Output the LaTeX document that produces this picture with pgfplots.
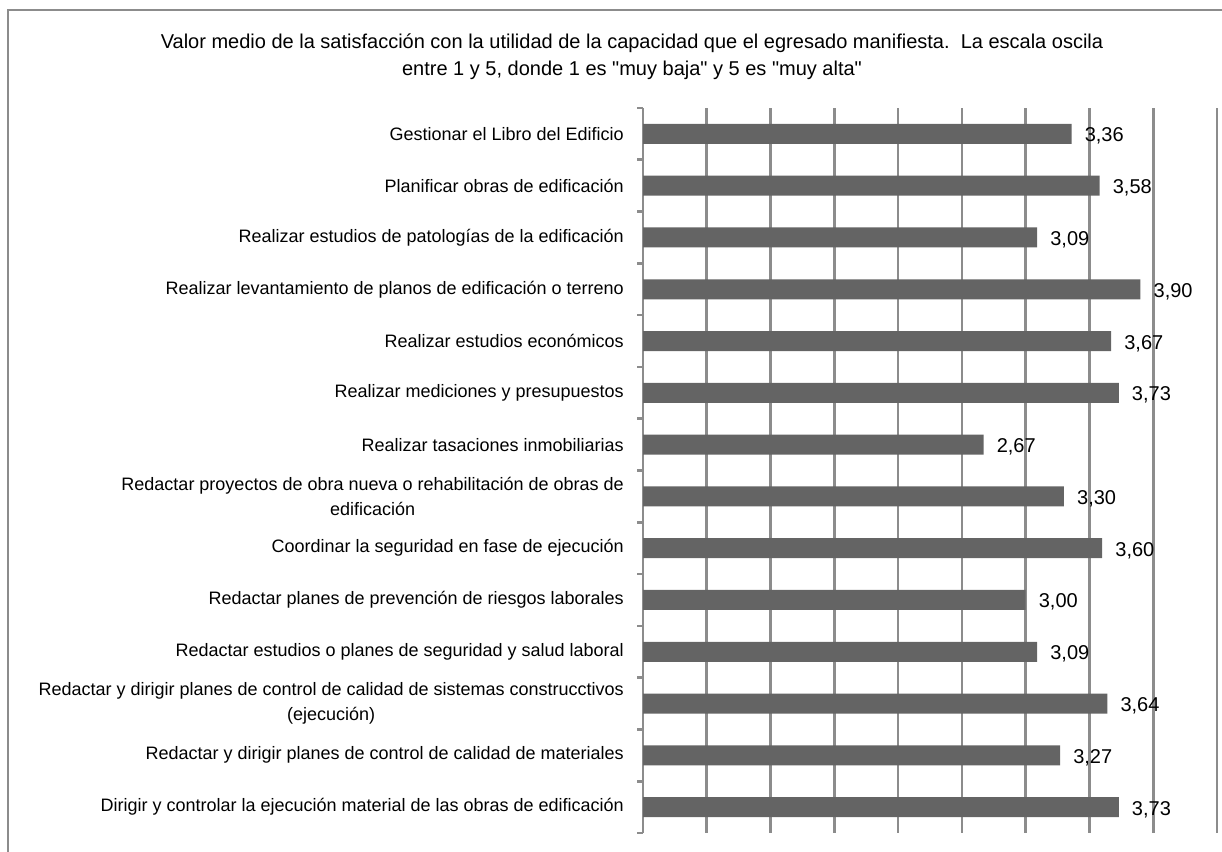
\documentclass[border=0pt]{standalone}
\usepackage{fontspec}
\setmainfont{Liberation Sans}[Ligatures=TeXOff]
\usepackage{pgfplots}
\pgfplotsset{compat=1.18}
\definecolor{bargray}{HTML}{646464}
\definecolor{gridgray}{HTML}{8C8C8C}
\begin{document}
\begin{tikzpicture}
\useasboundingbox (0,0) rectangle (1222pt,851pt);
\draw[gridgray, line width=2.2pt] (8.3pt,-5pt) -- (8.3pt,840.7pt) -- (1230pt,840.7pt);
\node[font=\fontsize{20}{27}\selectfont, align=center] at (632pt,794pt)
  {Valor medio de la satisfacción con la utilidad de la capacidad que el egresado manifiesta.\ \ La escala oscila\\
   entre 1 y 5, donde 1 es "muy baja" y 5 es "muy alta"};
\begin{axis}[
  at={(643pt,18pt)}, anchor=south west,
  scale only axis, width=574pt, height=725pt,
  xbar, bar width=20pt,
  xmin=0, xmax=4.5,
  ymin=-0.5, ymax=13.5, y dir=reverse,
  axis line style={draw=none},
  xtick={0,0.5,...,4.5}, xticklabels={}, xtick pos=bottom,
  major x tick style={draw=none},
  xmajorgrids, major grid style={line width=2.6pt, gridgray},
  ytick={0,...,13}, ytick pos=left,
  major tick length=0pt, tick align=outside,
  minor ytick={-0.5,0.5,...,13.5}, minor tick length=6pt,
  minor y tick style={line width=2.6pt, gridgray},
  yticklabel style={font=\fontsize{18}{25}\selectfont, align=center, inner xsep=0pt, xshift=-19pt},
  yticklabels={
    Gestionar el Libro del Edificio,
    Planificar obras de edificación,
    Realizar estudios de patologías de la edificación,
    Realizar levantamiento de planos de edificación o terreno,
    Realizar estudios económicos,
    Realizar mediciones y presupuestos,
    Realizar tasaciones inmobiliarias,
    {Redactar proyectos de obra nueva o rehabilitación de obras de\\edificación},
    Coordinar la seguridad en fase de ejecución,
    Redactar planes de prevención de riesgos laborales,
    Redactar estudios o planes de seguridad y salud laboral,
    {Redactar y dirigir planes de control de calidad de sistemas construcctivos\\(ejecución)},
    Redactar y dirigir planes de control de calidad de materiales,
    Dirigir y controlar la ejecución material de las obras de edificación
  },
  point meta=x,
  nodes near coords={\pgfmathprintnumber[fixed,fixed zerofill,precision=2,use comma,assume math mode=true]{\pgfplotspointmeta}},
  every node near coord/.append style={anchor=base west, inner sep=0pt, xshift=13pt, yshift=-8pt, font=\fontsize{20}{24}\selectfont, black},
  clip=false,
]
\addplot[fill=bargray, draw=none] coordinates {
  (3.36,0) (3.58,1) (3.09,2) (3.90,3) (3.67,4) (3.73,5) (2.67,6)
  (3.30,7) (3.60,8) (3.00,9) (3.09,10) (3.64,11) (3.27,12) (3.73,13)
};
\end{axis}
\end{tikzpicture}
\end{document}
